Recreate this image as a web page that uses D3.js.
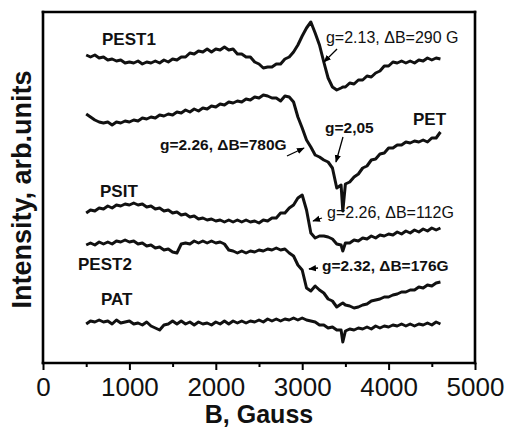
<!DOCTYPE html>
<html>
<head>
<meta charset="utf-8">
<script src="https://cdn.jsdelivr.net/npm/d3@7"></script>
<style>
  body { margin: 0; background: #fff; }
  text { font-family: "Liberation Sans", Arial, sans-serif; }
</style>
</head>
<body>
<script>
// magnetic field, Gauss (shared by all spectra)
const field = [500, 550, 600, 650, 700, 750, 800, 850, 900, 950,
  1000, 1050, 1100, 1150, 1200, 1250, 1300, 1350, 1400, 1450,
  1500, 1550, 1600, 1650, 1700, 1750, 1800, 1850, 1900, 1950,
  2000, 2050, 2100, 2150, 2200, 2250, 2300, 2350, 2400, 2450,
  2500, 2550, 2600, 2650, 2700, 2750, 2800, 2850, 2900, 2950,
  3000, 3050, 3100, 3150, 3200, 3250, 3300, 3350, 3400, 3450, 3470,
  3500, 3550, 3600, 3650, 3700, 3750, 3800, 3850, 3900, 3950,
  4000, 4050, 4100, 4150, 4200, 4250, 4300, 4350, 4400, 4450,
  4500, 4550, 4600];

// intensities, arb. units (spectra already offset)
const pest1 = [308, 306, 308, 305, 306, 303, 304, 302, 303, 300,
  301, 300, 302, 299, 301, 300, 302, 300, 303, 301,
  304, 303, 306, 306, 310, 309, 312, 311, 314, 311,
  314, 313, 316, 313, 314, 309, 309, 306, 306, 301,
  299, 295, 296, 296, 299, 299, 304, 306, 311, 318,
  327, 335, 341, 330, 318, 301, 285, 276, 273, 275, 276,
  276, 280, 279, 283, 283, 287, 286, 290, 292, 297,
  297, 301, 300, 302, 300, 302, 300, 303, 302, 305,
  303, 305, 304];

const pet = [249, 246, 243, 241, 240, 241, 238, 241, 240, 242,
  241, 243, 242, 245, 244, 246, 245, 248, 247, 249,
  248, 251, 250, 253, 251, 254, 252, 255, 254, 257,
  256, 259, 258, 261, 260, 262, 261, 264, 263, 266,
  265, 268, 267, 265, 265, 262, 267, 266, 261, 246,
  235, 223, 216, 208, 206, 203, 201, 195, 175, 178, 152,
  179, 181, 186, 189, 195, 197, 203, 204, 209, 210,
  215, 215, 218, 218, 221, 220, 222, 221, 223, 221,
  225, 225, 231];

const psit = [150, 153, 152, 155, 154, 157, 155, 158, 157, 159,
  158, 160, 158, 159, 156, 157, 154, 155, 152, 153,
  150, 151, 148, 149, 146, 147, 144, 145, 143, 144,
  142, 143, 141, 143, 141, 143, 141, 143, 141, 142,
  140, 143, 142, 145, 145, 150, 150, 155, 158, 165,
  168, 153, 130, 125, 127, 127, 126, 124, 119, 118, 112,
  120, 120, 123, 122, 125, 124, 127, 125, 128, 127,
  129, 128, 131, 129, 132, 130, 133, 131, 134, 132,
  135, 133, 135];

const pest2 = [118, 120, 118, 121, 119, 121, 119, 122, 121, 123,
  121, 122, 119, 120, 117, 118, 115, 116, 113, 114,
  111, 110, 119, 120, 119, 122, 120, 122, 120, 122,
  120, 121, 119, 113, 112, 110, 112, 110, 112, 111,
  113, 112, 114, 113, 115, 113, 114, 110, 107, 98,
  93, 75, 72, 77, 73, 70, 64, 62, 56, 59, 60,
  58, 57, 55, 56, 58, 59, 62, 63, 64, 66,
  66, 68, 69, 71, 71, 73, 73, 76, 75, 78,
  77, 80, 81];

const pat = [39, 42, 41, 43, 41, 42, 39, 43, 40, 41,
  42, 39, 40, 38, 41, 37, 35, 33, 38, 39,
  42, 39, 42, 39, 41, 38, 41, 39, 40, 38,
  41, 39, 42, 39, 42, 40, 42, 40, 42, 41,
  43, 41, 44, 42, 44, 42, 44, 43, 45, 43,
  45, 43, 42, 41, 38, 38, 35, 36, 33, 33, 21,
  32, 34, 33, 35, 34, 36, 34, 37, 35, 37,
  36, 38, 37, 39, 37, 39, 37, 39, 38, 40,
  38, 41, 39];

const spectra = [pest1, pet, psit, pest2, pat];

const xTicks = [0, 1000, 2000, 3000, 4000, 5000];
const xMinorTicks = [500, 1500, 2500, 3500, 4500];

// labels: [text, field, intensity, bold, size]
const labels = [
  ["PEST1", 683, 318, true, 17],
  ["g=2.13, \u0394B=290 G", 3275, 320, false, 16],
  ["g=2.26, \u0394B=780G", 1354, 213, true, 15.5],
  ["g=2,05", 3264, 230, true, 15.5],
  ["PET", 4282, 238, true, 17],
  ["PSIT", 660, 166, true, 17],
  ["g=2.26, \u0394B=112G", 3287, 145, false, 16],
  ["PEST2", 405, 93, true, 17],
  ["g=2.32, \u0394B=176G", 3229, 92, true, 15.5],
  ["PAT", 671, 58, true, 17]
];

// arrows: [field from, intensity from, field to, intensity to]
const arrows = [
  [3403, 314, 3252, 301],
  [2824, 207, 3021, 215],
  [3472, 226, 3391, 201],
  [3229, 145, 3125, 142],
  [3183, 95, 3079, 94]
];

const width = 509, height = 427;
const margin = { top: 12, right: 34, bottom: 64, left: 43 };

const svg = d3.select('body')
  .append('svg')
  .attr('width', width)
  .attr('height', height);

const x = d3.scaleLinear()
  .domain([0, 5000])
  .range([margin.left, width - margin.right]);

const y = d3.scaleLinear()
  .domain([0, 351])
  .range([height - margin.bottom, margin.top]);

svg.append('defs').append('marker')
  .attr('id', 'head')
  .attr('viewBox', '0 0 10 10')
  .attr('refX', 9).attr('refY', 5)
  .attr('markerWidth', 6).attr('markerHeight', 6)
  .attr('orient', 'auto')
  .append('path')
  .attr('d', 'M0,1L10,5L0,9Z')
  .attr('fill', '#000');

// frame: four sides of the data box as plain lines
const [fx0, fx1] = x.domain();
const [fy0, fy1] = y.domain();
const sides = [
  [fx0, fy1, fx1, fy1],
  [fx0, fy0, fx0, fy1],
  [fx1, fy0, fx1, fy1],
  [fx0, fy0, fx1, fy0]
];
svg.selectAll('line.frame')
  .data(sides)
  .join('line')
  .attr('class', 'frame')
  .attr('x1', d => x(d[0])).attr('y1', d => y(d[1]))
  .attr('x2', d => x(d[2])).attr('y2', d => y(d[3]))
  .attr('stroke', '#000')
  .attr('stroke-width', 2.6)
  .attr('stroke-linecap', 'square');

// x axis ticks and labels
const xAxis = svg.append('g')
  .attr('transform', `translate(0,${y(0)})`)
  .call(d3.axisBottom(x).tickValues(xTicks).tickFormat(d3.format('d'))
    .tickSize(7).tickSizeOuter(0).tickPadding(8));
xAxis.select('.domain').remove();
xAxis.selectAll('.tick line').attr('stroke-width', 2);
xAxis.selectAll('.tick text')
  .style('font-family', '"Liberation Sans", Arial, sans-serif')
  .style('font-size', '26px')
  .attr('fill', '#111');

svg.append('g')
  .attr('transform', `translate(0,${y(0)})`)
  .call(d3.axisBottom(x).tickValues(xMinorTicks).tickSize(4).tickFormat(''))
  .call(g => g.select('.domain').remove())
  .selectAll('.tick line').attr('stroke-width', 2);

// spectra
const line = d3.line()
  .x((d, i) => x(field[i]))
  .y(d => y(d));

svg.selectAll('path.spec')
  .data(spectra)
  .join('path')
  .attr('class', 'spec')
  .attr('fill', 'none')
  .attr('stroke', '#111')
  .attr('stroke-width', 3)
  .attr('stroke-linejoin', 'round')
  .attr('d', line);

// annotations
svg.selectAll('line.arrow')
  .data(arrows)
  .join('line')
  .attr('class', 'arrow')
  .attr('x1', d => x(d[0])).attr('y1', d => y(d[1]))
  .attr('x2', d => x(d[2])).attr('y2', d => y(d[3]))
  .attr('stroke', '#000')
  .attr('stroke-width', 1.3)
  .attr('marker-end', 'url(#head)');

svg.selectAll('text.lab')
  .data(labels)
  .join('text')
  .attr('class', 'lab')
  .attr('x', d => x(d[1]))
  .attr('y', d => y(d[2]))
  .attr('font-weight', d => d[3] ? 'bold' : 'normal')
  .attr('font-size', d => d[4] + 'px')
  .attr('fill', '#111')
  .text(d => d[0]);

// axis titles
svg.append('text')
  .attr('x', (x(0) + x(5000)) / 2)
  .attr('y', 423)
  .attr('text-anchor', 'middle')
  .attr('font-weight', 'bold')
  .attr('font-size', '25px')
  .attr('fill', '#111')
  .text('B, Gauss');

svg.append('text')
  .attr('transform', `translate(31,${(y(0) + y(351)) / 2 + 2}) rotate(-90)`)
  .attr('text-anchor', 'middle')
  .attr('font-weight', 'bold')
  .attr('font-size', '27px')
  .attr('fill', '#111')
  .text('Intensity, arb.units');
</script>
</body>
</html>
